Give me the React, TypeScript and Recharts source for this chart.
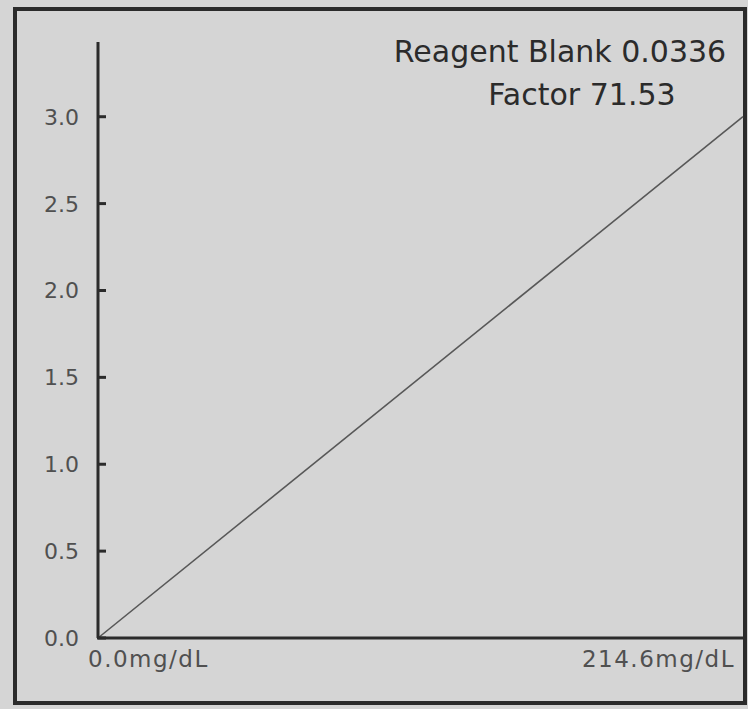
import React from 'react';
import { LineChart, Line, XAxis, YAxis } from 'recharts';

// calibration curve: concentration (mg/dL) vs absorbance
const concentration = [0, 214.6];
const absorbance = [0, 3.0];
const yTicks = [0, 0.5, 1.0, 1.5, 2.0, 2.5, 3.0];
const xTicks = [0, 214.6];
const reagentBlank = '0.0336';
const factor = '71.53';

const data = concentration.map((c, i) => ({ conc: c, abs: absorbance[i] }));

const INK = '#2b2b2b';
const LABEL = '#505050';
const FONT = '"DejaVu Sans", sans-serif';

const YTick = (props: any) => {
  const { x, y, payload } = props;
  return (
    <g>
      <text x={x} y={y} dy="0.36em" textAnchor="end" fill={LABEL} fontSize={22} fontFamily={FONT}>
        {payload.value.toFixed(1)}
      </text>
      <line x1={x + 18} x2={x + 27} y1={y} y2={y} stroke={INK} strokeWidth={3} />
    </g>
  );
};

const XTick = (props: any) => {
  const { x, y, payload, index } = props;
  return (
    <text
      x={index === 0 ? x - 10 : x - 8}
      y={y}
      dy="0.71em"
      textAnchor={index === 0 ? 'start' : 'end'}
      fill={LABEL}
      fontSize={23}
      letterSpacing={1.5}
      fontFamily={FONT}
    >
      {payload.value.toFixed(1)}mg/dL
    </text>
  );
};

const App: React.FC = () => {
  return (
    <div
      style={{
        position: 'absolute',
        left: 0,
        top: 0,
        width: 748,
        height: 709,
        background: '#d5d5d5',
        overflow: 'hidden',
        fontFamily: FONT,
      }}
    >
      {/* instrument screen frame */}
      <div
        style={{
          position: 'absolute',
          left: 13,
          top: 7,
          width: 734,
          height: 698,
          boxSizing: 'border-box',
          border: `4px solid ${INK}`,
        }}
      />
      <div style={{ position: 'absolute', left: 0, top: 0 }}>
        <LineChart width={748} height={709} data={data} margin={{ top: 42, right: 5, bottom: 31, left: 0 }}>
          <XAxis
            dataKey="conc"
            type="number"
            domain={[0, 214.6]}
            ticks={xTicks}
            interval={0}
            axisLine={{ stroke: INK, strokeWidth: 3 }}
            tickLine={false}
            tickSize={0}
            tickMargin={13}
            height={40}
            tick={<XTick />}
          />
          <YAxis
            type="number"
            domain={[0, 3.43]}
            ticks={yTicks}
            interval={0}
            width={98}
            axisLine={{ stroke: INK, strokeWidth: 3 }}
            tickLine={false}
            tickSize={0}
            tickMargin={19}
            tick={<YTick />}
          />
          <Line
            type="linear"
            dataKey="abs"
            stroke="#585858"
            strokeWidth={1.6}
            dot={false}
            isAnimationActive={false}
          />
        </LineChart>
      </div>
      <div
        style={{
          position: 'absolute',
          left: 378,
          top: 30,
          width: 364,
          textAlign: 'center',
          color: INK,
          fontSize: 30,
          lineHeight: '43px',
        }}
      >
        <div>Reagent Blank {reagentBlank}</div>
        <div style={{ paddingLeft: 44 }}>Factor {factor}</div>
      </div>
    </div>
  );
};

export default App;
